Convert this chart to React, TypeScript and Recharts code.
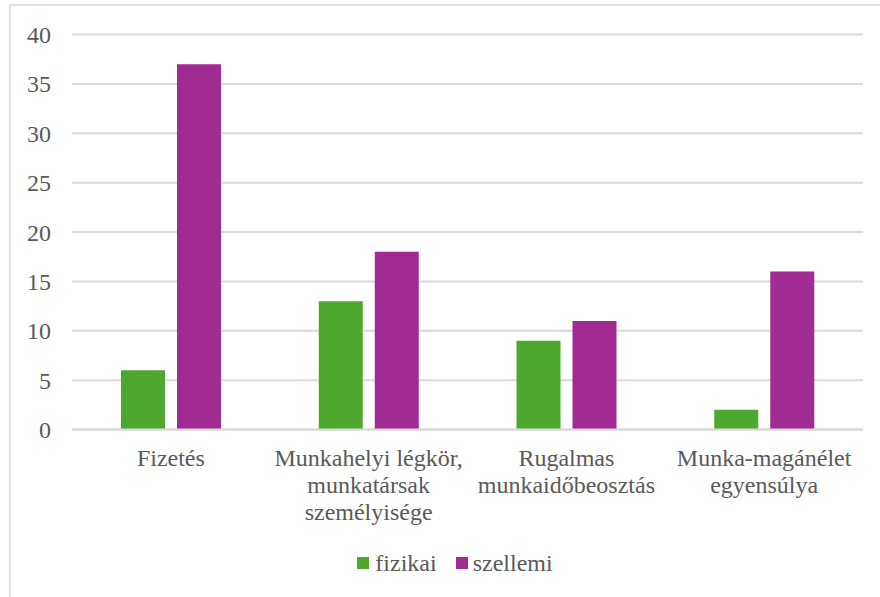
import React from "react";
import { BarChart, Bar, XAxis, YAxis, CartesianGrid, Legend } from "recharts";

// Válaszok száma tényezőnként, fizikai és szellemi munkakörök szerint
const categories: string[][] = [
  ["Fizetés"],
  ["Munkahelyi légkör,", "munkatársak", "személyisége"],
  ["Rugalmas", "munkaidőbeosztás"],
  ["Munka-magánélet", "egyensúlya"],
];
const fizikai = [6, 13, 9, 2];
const szellemi = [37, 18, 11, 16];
const yTicks = [0, 5, 10, 15, 20, 25, 30, 35, 40];

const seriesNames = { fizikai: "fizikai", szellemi: "szellemi" };
const GREEN = "#4ea72e";
const PURPLE = "#a02b93";
const TEXT = "#595959";
const GRID = "#d9d9d9";
const FONT = '"Liberation Serif"';
const FONT_SIZE = 24;

const data = categories.map((lines, i) => ({
  key: lines.join(" "),
  fizikai: fizikai[i],
  szellemi: szellemi[i],
}));

const CategoryTick = (props: any) => {
  const { x, y, index } = props;
  const lines = categories[index] || [];
  return (
    <text
      x={x}
      y={y + 36.5}
      textAnchor="middle"
      fill={TEXT}
      style={{ fontFamily: FONT, fontSize: FONT_SIZE }}
    >
      {lines.map((line, i) => (
        <tspan key={i} x={x} dy={i === 0 ? 0 : 27}>
          {line}
        </tspan>
      ))}
    </text>
  );
};

const LegendContent = () => (
  <div
    style={{
      height: 40,
      display: "flex",
      alignItems: "center",
      justifyContent: "center",
      paddingLeft: 30,
      fontFamily: FONT,
      fontSize: FONT_SIZE,
      color: TEXT,
      boxSizing: "border-box",
    }}
  >
    <span style={{ display: "inline-block", width: 12, height: 12, background: GREEN, marginRight: 6 }} />
    <span style={{ marginRight: 19 }}>{seriesNames.fizikai}</span>
    <span style={{ display: "inline-block", width: 12, height: 12, background: PURPLE, marginRight: 5 }} />
    <span>{seriesNames.szellemi}</span>
  </div>
);

export default function App() {
  return (
    <div
      style={{
        position: "fixed",
        left: 0,
        top: 0,
        width: 880,
        height: 597,
        overflow: "hidden",
        background: "#ffffff",
        fontFamily: FONT,
      }}
    >
      <div
        style={{
          position: "absolute",
          left: 9,
          top: 4,
          width: 900,
          height: 700,
          border: `2px solid #e0e0e0`,
        }}
      />
      <div style={{ position: "absolute", left: 0, top: 0 }}>
        <BarChart
          width={880}
          height={597}
          data={data}
          margin={{ top: 34.5, right: 17, left: 12, bottom: 17.5 }}
          barSize={44}
          barGap={12}
          style={{ fontFamily: FONT }}
        >
          <CartesianGrid vertical={false} stroke={GRID} strokeWidth={2} />
          <XAxis
            dataKey="key"
            height={110}
            interval={0}
            tickLine={false}
            tickSize={0}
            tickMargin={0}
            axisLine={{ stroke: GRID, strokeWidth: 2 }}
            tick={<CategoryTick />}
          />
          <YAxis
            width={60}
            domain={[0, 40]}
            ticks={yTicks}
            interval={0}
            axisLine={false}
            tickLine={false}
            tickMargin={15}
            tick={{ fill: TEXT, fontSize: FONT_SIZE, style: { fontFamily: FONT } }}
          />
          <Legend
            verticalAlign="bottom"
            content={<LegendContent />}
            wrapperStyle={{ left: 0, width: 880, bottom: 14 }}
          />
          <Bar dataKey="fizikai" name={seriesNames.fizikai} fill={GREEN} isAnimationActive={false} />
          <Bar dataKey="szellemi" name={seriesNames.szellemi} fill={PURPLE} isAnimationActive={false} />
        </BarChart>
      </div>
    </div>
  );
}
